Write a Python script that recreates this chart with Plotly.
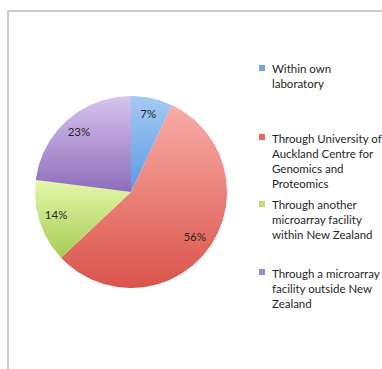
import numpy as np
import plotly.graph_objects as go

# Where microarray work is carried out (share of respondents, %)
categories = [
    "Within own laboratory",
    "Through University of Auckland Centre for Genomics and Proteomics",
    "Through another microarray facility within New Zealand",
    "Through a microarray facility outside New Zealand",
]
legend_text = [
    "Within own<br>laboratory",
    "Through University of<br>Auckland Centre for<br>Genomics and<br>Proteomics",
    "Through another<br>microarray facility<br>within New Zealand",
    "Through a microarray<br>facility outside New<br>Zealand",
]
shares = [7, 56, 14, 23]

# light (top) and deep (bottom) tone of each slice's gradient
top_colors = ["#a6caf3", "#f9aca7", "#e5f7ab", "#d7c4ee"]
bottom_colors = ["#5a9ae2", "#d9544a", "#a6cb55", "#8f6dbb"]
swatch_colors = ["#6fa6e6", "#e56a61", "#bcde72", "#a487cc"]

W, H = 382, 369
CX, CY, R = 131, 192, 96          # pie centre / radius in pixels
LABEL_R = 0.82                     # label distance as a fraction of radius
FONT = "Lato, Carlito, sans-serif"

fig = go.Figure()

total = float(sum(shares))
start = 0.0
for name, v, ctop, cbot in zip(categories, shares, top_colors, bottom_colors):
    frac0, frac1 = start / total, (start + v) / total
    n = max(8, int(400 * (frac1 - frac0)))
    phi = np.pi / 2 - 2 * np.pi * np.linspace(frac0, frac1, n)
    xs = np.concatenate([[0.0], np.cos(phi), [0.0]])
    ys = np.concatenate([[0.0], np.sin(phi), [0.0]])
    fig.add_trace(go.Scatter(
        x=xs, y=ys, mode="lines", fill="toself",
        line=dict(width=0, color=cbot),
        fillgradient=dict(type="vertical", colorscale=[[0, cbot], [1, ctop]]),
        name=name, hoverinfo="skip", showlegend=False,
    ))
    start += v

# percentage labels at each slice's mid-angle
cum = np.cumsum([0] + shares[:-1])
mid = (cum + np.array(shares) / 2) / total
phi_mid = np.pi / 2 - 2 * np.pi * mid
fig.add_trace(go.Scatter(
    x=LABEL_R * np.cos(phi_mid), y=LABEL_R * np.sin(phi_mid),
    mode="text", text=[f"{v}%" for v in shares],
    textfont=dict(family=FONT, size=11.5, color="#262626"),
    hoverinfo="skip", showlegend=False,
))

# legend drawn as swatches plus wrapped labels
legend_rows = [68, 137, 204, 272]   # pixel row of each entry's first line
shapes = []
annotations = []
for txt, c, row in zip(legend_text, swatch_colors, legend_rows):
    shapes.append(dict(type="rect", xref="paper", yref="paper",
                       x0=259 / W, x1=265 / W,
                       y0=1 - (row + 3) / H, y1=1 - (row - 3) / H,
                       fillcolor=c, line=dict(width=0)))
    annotations.append(dict(x=270 / W, y=1 - (row - 7.5) / H,
                            xref="paper", yref="paper",
                            xanchor="left", yanchor="top", align="left",
                            text=txt, showarrow=False,
                            font=dict(family=FONT, size=11.5,
                                      color="#262626")))

# frame edges (top and left)
shapes.append(dict(type="line", xref="paper", yref="paper",
                   x0=7.5 / W, x1=1, y0=1 - 11 / H, y1=1 - 11 / H,
                   line=dict(color="#cccccc", width=2)))
shapes.append(dict(type="line", xref="paper", yref="paper",
                   x0=8 / W, x1=8 / W, y0=0, y1=1 - 10 / H,
                   line=dict(color="#cccccc", width=2)))

axis_common = dict(showgrid=False, zeroline=False, showticklabels=False,
                   showline=False, ticks="", fixedrange=True)
fig.update_layout(
    width=W, height=H,
    margin=dict(l=0, r=0, t=0, b=0),
    paper_bgcolor="white", plot_bgcolor="white",
    xaxis=dict(range=[-CX / R, (W - CX) / R], domain=[0, 1], **axis_common),
    yaxis=dict(range=[-(H - CY) / R, CY / R], domain=[0, 1], **axis_common),
    shapes=shapes, annotations=annotations,
    showlegend=False,
)

fig.write_html("out.html")
